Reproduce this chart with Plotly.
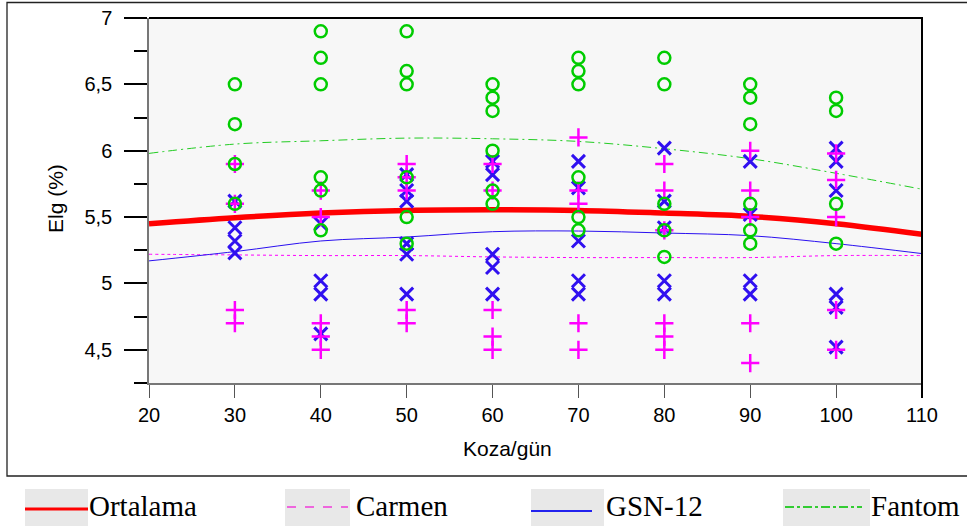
import plotly.graph_objects as go

# ---------------- data ----------------
line_days = [20, 30, 40, 50, 60, 70, 80, 90, 100, 110]
ortalama_line = [5.45, 5.495, 5.53, 5.55, 5.555, 5.55, 5.53, 5.505, 5.45, 5.37]
carmen_line = [5.22, 5.215, 5.21, 5.21, 5.20, 5.195, 5.195, 5.195, 5.21, 5.21]
gsn_line = [5.17, 5.24, 5.32, 5.35, 5.39, 5.395, 5.38, 5.36, 5.30, 5.225]
fantom_line = [5.98, 6.05, 6.075, 6.095, 6.09, 6.07, 6.015, 5.94, 5.83, 5.71]

fantom_day = [30, 30, 30, 30,
              40, 40, 40, 40, 40, 40,
              50, 50, 50, 50, 50, 50,
              60, 60, 60, 60, 60, 60,
              70, 70, 70, 70, 70, 70,
              80, 80, 80, 80, 80,
              90, 90, 90, 90, 90, 90,
              100, 100, 100, 100]
fantom_elg = [6.5, 6.2, 5.9, 5.6,
              6.9, 6.7, 6.5, 5.8, 5.7, 5.4,
              6.9, 6.6, 6.5, 5.8, 5.5, 5.3,
              6.5, 6.4, 6.3, 6.0, 5.7, 5.6,
              6.7, 6.6, 6.5, 5.8, 5.5, 5.4,
              6.7, 6.5, 5.6, 5.4, 5.2,
              6.5, 6.4, 6.2, 5.6, 5.4, 5.3,
              6.4, 6.3, 5.6, 5.3]

gsn_day = [30, 30, 30, 30,
           40, 40, 40, 40,
           50, 50, 50, 50, 50, 50,
           60, 60, 60, 60, 60,
           70, 70, 70, 70, 70,
           80, 80, 80, 80, 80,
           90, 90, 90, 90,
           100, 100, 100, 100, 100, 100]
gsn_elg = [5.62, 5.42, 5.32, 5.23,
           5.45, 5.02, 4.92, 4.62,
           5.82, 5.70, 5.62, 5.30, 5.22, 4.92,
           5.92, 5.82, 5.22, 5.12, 4.92,
           5.92, 5.72, 5.32, 5.02, 4.92,
           6.02, 5.62, 5.42, 5.02, 4.92,
           5.92, 5.52, 5.02, 4.92,
           6.02, 5.92, 5.70, 4.92, 4.82, 4.52]

carmen_day = [30, 30, 30, 30,
              40, 40, 40, 40, 40,
              50, 50, 50, 50, 50,
              60, 60, 60, 60, 60,
              70, 70, 70, 70, 70,
              80, 80, 80, 80, 80, 80,
              90, 90, 90, 90, 90,
              100, 100, 100, 100, 100]
carmen_elg = [5.9, 5.6, 4.8, 4.7,
              5.7, 5.5, 4.7, 4.6, 4.5,
              5.9, 5.8, 5.7, 4.8, 4.7,
              5.9, 5.7, 4.8, 4.6, 4.5,
              6.1, 5.7, 5.6, 4.7, 4.5,
              5.9, 5.7, 5.4, 4.7, 4.6, 4.5,
              6.0, 5.7, 5.5, 4.7, 4.4,
              5.98, 5.78, 5.5, 4.8, 4.5]

x_ticks = [20, 30, 40, 50, 60, 70, 80, 90, 100, 110]
y_ticks = [4.5, 5, 5.5, 6, 6.5, 7]
y_ticktext = ["4,5", "5", "5,5", "6", "6,5", "7"]
legend_names = ["Ortalama", "Carmen", "GSN-12", "Fantom"]

# ---------------- geometry helpers ----------------
W, H = 967, 526
L, R, T, B = 149, 45, 18, 143
PW, PH = W - L - R, H - T - B


def px(x):
    return (x - L) / PW


def py(y):
    return (H - B - y) / PH


SANS = "Liberation Sans, Arial, sans-serif"
SERIF = "Liberation Serif, Times New Roman, serif"

fig = go.Figure()

# fitted lines
fig.add_trace(go.Scatter(x=line_days, y=carmen_line, mode="lines",
                         line=dict(color="#ff00ff", width=1, dash="dot", shape="spline")))
fig.add_trace(go.Scatter(x=line_days, y=gsn_line, mode="lines",
                         line=dict(color="#2a10f0", width=1, shape="spline")))
fig.add_trace(go.Scatter(x=line_days, y=fantom_line, mode="lines",
                         line=dict(color="#22cc22", width=1, dash="9px,4px,2px,4px", shape="spline")))
fig.add_trace(go.Scatter(x=line_days, y=ortalama_line, mode="lines",
                         line=dict(color="#ff0000", width=5.5, shape="spline")))

# observations
fig.add_trace(go.Scatter(x=gsn_day, y=gsn_elg, mode="markers",
                         marker=dict(symbol="x-thin-open", size=13, color="#3010f0",
                                     line=dict(color="#3010f0", width=3))))
fig.add_trace(go.Scatter(x=carmen_day, y=carmen_elg, mode="markers",
                         marker=dict(symbol="cross-thin-open", size=13, color="#ff00ff",
                                     line=dict(color="#ff00ff", width=2.5))))
fig.add_trace(go.Scatter(x=fantom_day, y=fantom_elg, mode="markers",
                         marker=dict(symbol="circle-open", size=12, color="#00cc00",
                                     line=dict(color="#00cc00", width=2.5))))

shapes = []
annotations = []

# outer frame
shapes.append(dict(type="rect", xref="paper", yref="paper",
                   x0=px(7), x1=px(990), y0=py(476), y1=py(2.5),
                   line=dict(color="#222222", width=1.3), layer="below"))
# plot top and right borders
shapes.append(dict(type="line", xref="paper", yref="paper", x0=0, x1=1, y0=1, y1=1,
                   line=dict(color="black", width=2)))
shapes.append(dict(type="line", xref="paper", yref="paper", x0=1, x1=1, y0=py(398), y1=py(17),
                   line=dict(color="black", width=2)))

# custom legend
leg_colors = ["#ff0000", "#ee66dd", "#2222ee", "#33cc33"]
leg_dash = ["solid", "dash", "solid", "dashdot"]
leg_width = [3, 2, 2, 2]
leg_box = [(25, 88), (285, 350), (531, 604), (783, 870)]
leg_line = [(25, 88, 509), (287, 348, 507), (531, 592, 511), (785, 862, 507)]
leg_text_x = [87, 354, 604, 869]
for i, name in enumerate(legend_names):
    bx0, bx1 = leg_box[i]
    shapes.append(dict(type="rect", xref="paper", yref="paper",
                       x0=px(bx0), x1=px(bx1), y0=py(530), y1=py(489),
                       fillcolor="#e8e8e8", line=dict(width=0), layer="below"))
    lx0, lx1, ly = leg_line[i]
    shapes.append(dict(type="line", xref="paper", yref="paper",
                       x0=px(lx0), x1=px(lx1), y0=py(ly), y1=py(ly),
                       line=dict(color=leg_colors[i], width=leg_width[i], dash=leg_dash[i])))
    annotations.append(dict(xref="paper", yref="paper", x=px(leg_text_x[i]), y=py(506),
                            xanchor="left", yanchor="middle", showarrow=False,
                            text=name, font=dict(family=SERIF, size=29, color="black")))

# axis titles
annotations.append(dict(xref="paper", yref="paper", x=px(507), y=py(448),
                        xanchor="center", yanchor="middle", showarrow=False,
                        text="Koza/gün", font=dict(family=SANS, size=21, color="black")))
annotations.append(dict(xref="paper", yref="paper", x=px(55), y=py(199),
                        xanchor="center", yanchor="middle", showarrow=False, textangle=-90,
                        text="Elg (%)", font=dict(family=SANS, size=21, color="black")))

fig.update_layout(
    width=W, height=H,
    margin=dict(l=L, r=R, t=T, b=B, pad=0, autoexpand=False),
    paper_bgcolor="white",
    plot_bgcolor="#f7f7f7",
    showlegend=False,
    shapes=shapes,
    annotations=annotations,
    xaxis=dict(range=[20, 110], tickmode="array", tickvals=x_ticks, automargin=False,
               ticks="outside", ticklen=13, tickwidth=1, tickcolor="#555555",
               showline=True, linecolor="#777777", linewidth=1.5,
               showgrid=False, zeroline=False, ticklabelstandoff=0,
               tickfont=dict(family=SANS, size=20, color="black")),
    yaxis=dict(range=[4.25, 7], tickmode="array", tickvals=y_ticks, ticktext=y_ticktext,
               automargin=False,
               ticks="outside", ticklen=23, tickwidth=2, tickcolor="black",
               showline=True, linecolor="#777777", linewidth=1.5,
               showgrid=False, zeroline=False, ticklabelstandoff=8,
               tickfont=dict(family=SANS, size=20, color="black"),
               minor=dict(tickmode="linear", tick0=4.25, dtick=0.5, ticks="outside",
                          ticklen=13, tickwidth=2, tickcolor="black", showgrid=False)),
)

fig.write_html("out.html")
